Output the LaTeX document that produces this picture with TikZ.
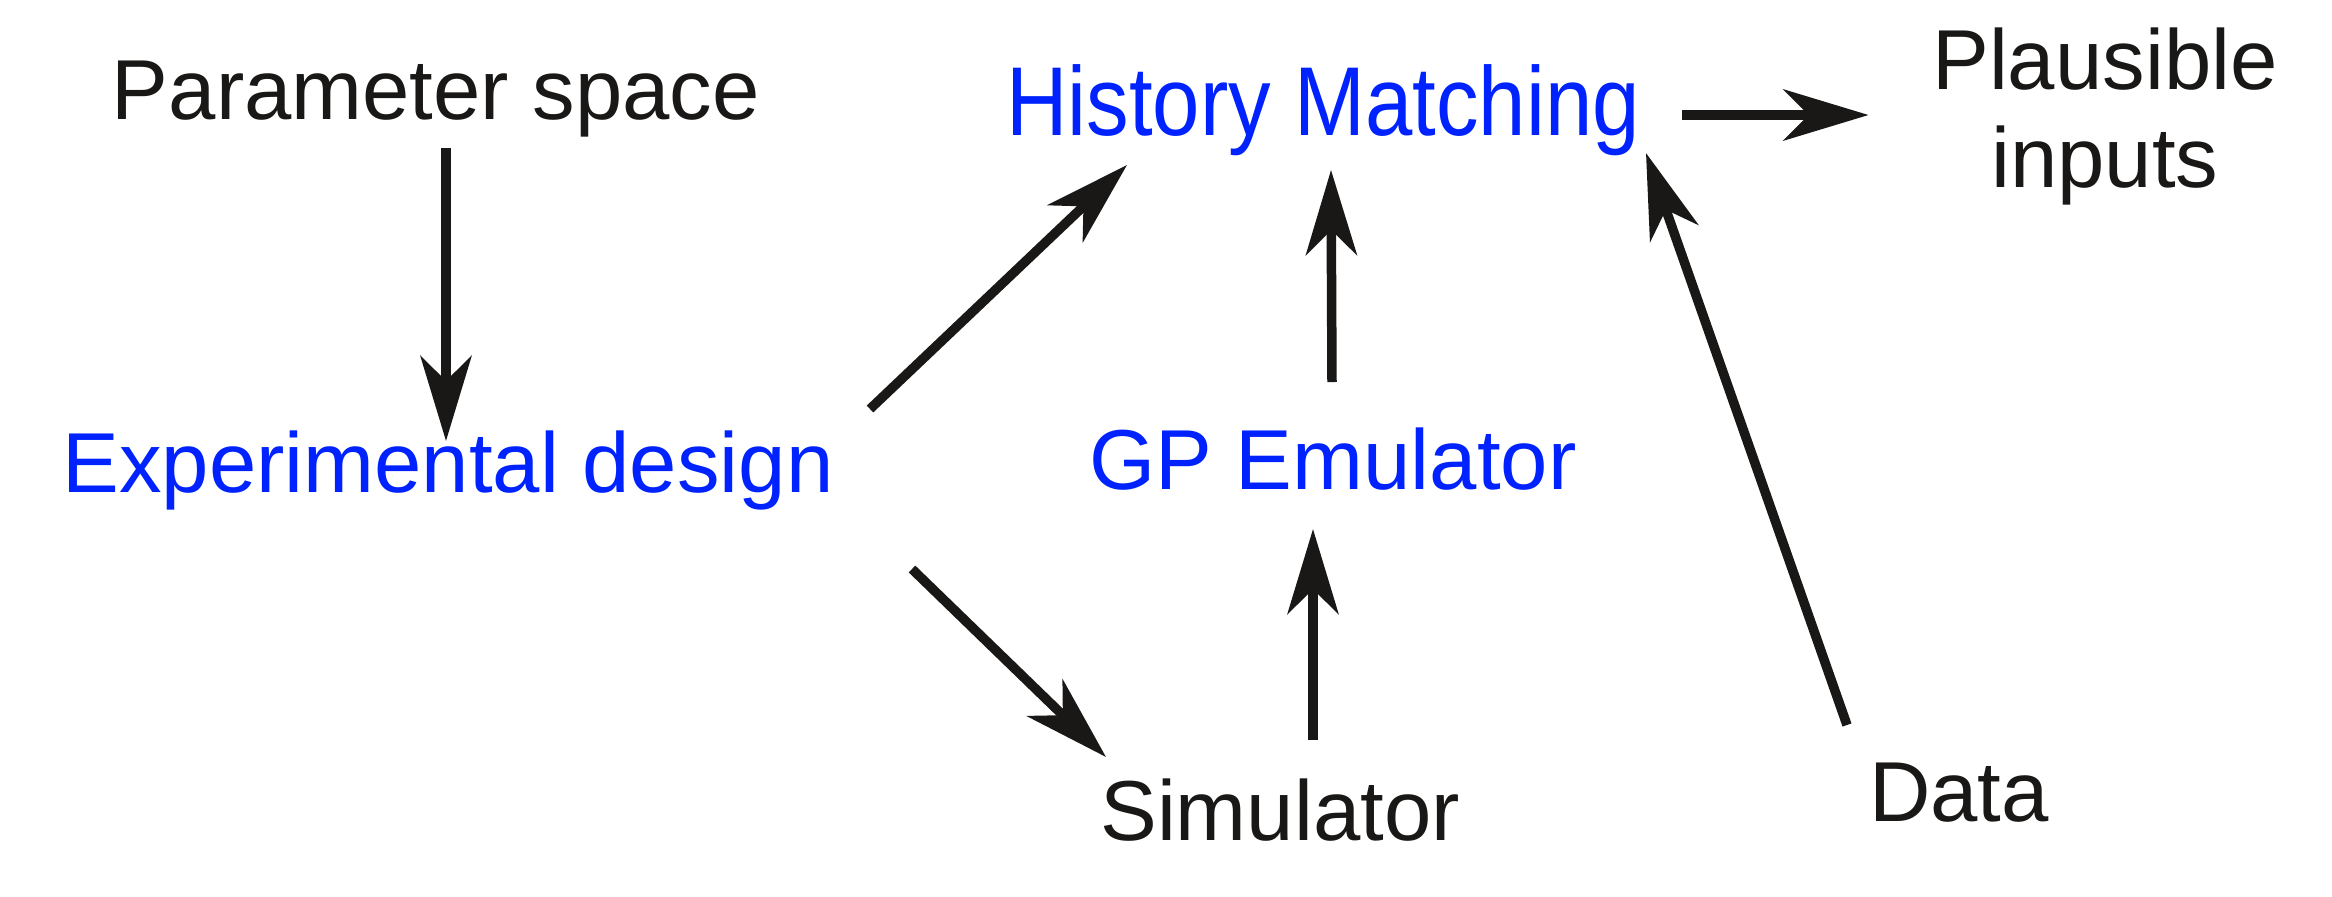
\documentclass[tikz,border=0pt]{standalone}
\usepackage{fontspec}
\setmainfont{Liberation Sans}
\usepackage{graphicx}
\usetikzlibrary{arrows.meta,calc}
\definecolor{ink}{RGB}{26,24,22}
\definecolor{toolblue}{RGB}{0,34,255}

\begin{document}
\begin{tikzpicture}
[x=0.01cm, y=-0.01cm,
 lbl/.style={anchor=base, inner sep=0pt, text=ink, font=\fontsize{24.2}{27.8}\selectfont},
 tool/.style={lbl, text=toolblue},
 flow/.style={draw=ink, line width=2.7pt, -{Stealth[length=0.85cm,width=0.51cm,inset=0.25cm]}}]
\useasboundingbox (0,0) rectangle (2332,896);
\node[lbl] (ps) at (436,119) {Parameter space};
\node[tool] (ed) at (448,492) {Experimental design};
\node[tool] (hm) at (1323,135) {\scalebox{1}[1.15]{History Matching}};
\node[tool] (gp) at (1333,489) {GP Emulator};
\node[lbl] (sim) at (1280,840) {Simulator};
\node[lbl] (data) at (1959,821) {Data};
\node[lbl, align=center] (pi) at (2105,187) {Plausible\\inputs};
\coordinate (hmout) at ($(hm.base)+(359,-20)$);
\coordinate (piin) at ($(pi.west)+(-63,0)$);
% arrows
\draw[flow] ($(ps.base)+(10,29)$) -- ($(ed.base)+(-2,-51)$);
\draw[flow] ($(ed.base)+(422,-83)$) -- ($(hm.base)+(-196,30)$);
\draw[flow] ($(ed.base)+(464,77)$) -- ($(sim.base)+(-174,-83)$);
\draw[flow] ($(sim.base)+(33,-100)$) -- ($(gp.base)+(-20,40)$);
\draw[flow] ($(gp.base)+(-1,-107)$) -- ($(hm.base)+(8,35)$);
\draw[flow] ($(data.base)+(-112,-96)$) -- ($(hm.base)+(323,18)$);
\draw[flow] (hmout) -- (hmout -| piin);
\end{tikzpicture}
\end{document}
